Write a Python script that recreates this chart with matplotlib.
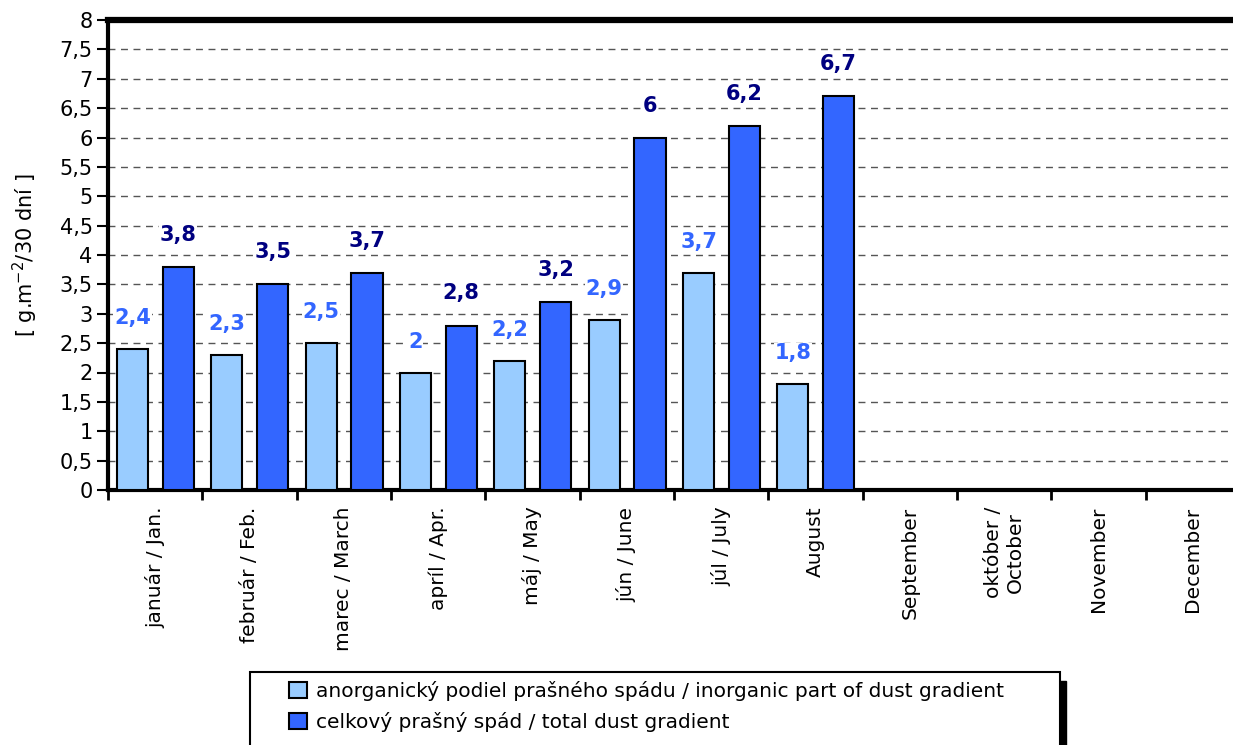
import numpy as np
import matplotlib.pyplot as plt
from matplotlib.patches import Rectangle

plt.rcParams['font.family'] = ['DejaVu Sans']

# data
months = ['január / Jan.', 'február / Feb.', 'marec / March', 'apríl / Apr.',
          'máj / May', 'jún / June', 'júl / July', 'August', 'September',
          'október /\nOctober', 'November', 'December']
inorganic = [2.4, 2.3, 2.5, 2.0, 2.2, 2.9, 3.7, 1.8]
total = [3.8, 3.5, 3.7, 2.8, 3.2, 6.0, 6.2, 6.7]
yticks = np.arange(0, 8.01, 0.5)

light = '#99CCFF'
dark = '#3366FF'

fig = plt.figure(figsize=(12.33, 7.45), dpi=100)
ax = fig.add_axes([108 / 1233, 1 - 490 / 745, 1132 / 1233, 470 / 745])

n = len(months)
x = np.arange(len(inorganic)) + 0.5
w = 0.33
b1 = ax.bar(x - 0.24, inorganic, w, color=light, edgecolor='black', linewidth=1.5, zorder=3,
            label='anorganický podiel prašného spádu / inorganic part of dust gradient')
b2 = ax.bar(x + 0.245, total, w, color=dark, edgecolor='black', linewidth=1.5, zorder=3,
            label='celkový prašný spád / total dust gradient')

def fmt(v):
    s = ('%g' % v).replace('.', ',')
    return s

for xi, v in zip(x - 0.24, inorganic):
    ax.annotate(fmt(v), (xi, v), xytext=(0, 31), textcoords='offset pixels',
                ha='center', va='center', fontsize=15, fontweight='bold', color=dark,
                bbox=dict(fc='white', ec='none', pad=0.5), zorder=4)
for xi, v in zip(x + 0.245, total):
    ax.annotate(fmt(v), (xi, v), xytext=(0, 32), textcoords='offset pixels',
                ha='center', va='center', fontsize=15, fontweight='bold', color='#000080',
                bbox=dict(fc='white', ec='none', pad=0.5), zorder=4)

ax.set_xlim(0, n)
ax.set_ylim(0, 8)
ax.set_yticks(yticks)
ax.set_yticklabels([fmt(t) for t in yticks], fontsize=15)
for t in yticks[1:-1]:
    ax.axhline(t, color='#555555', linestyle=(0, (5, 4)), linewidth=1, zorder=1)

ax.set_xticks(np.arange(0, n))
ax.set_xticklabels([])
ax.set_xticks(np.arange(n) + 0.5, minor=True)
ax.set_xticklabels(months, minor=True, rotation=90, fontsize=14.5, va='top', ha='center',
                   multialignment='center')
ax.tick_params(axis='x', which='minor', length=0, pad=12)
ax.tick_params(axis='x', which='major', length=7, width=2, direction='out')
ax.tick_params(axis='y', length=8, width=1.5, direction='out', pad=3)

for s in ['left', 'bottom']:
    ax.spines[s].set_linewidth(3)
ax.spines['top'].set_linewidth(4.5)
ax.spines['right'].set_linewidth(4)

ax.set_ylabel('[ g.m$^{-2}$/30 dní ]', fontsize=15, labelpad=14)

# legend box drawn by hand: it runs off the bottom of the figure
fig.patches.append(Rectangle((1060 / 1233, 0), 6 / 1233, 64 / 745, transform=fig.transFigure,
                             color='black', zorder=0))
fig.patches.append(Rectangle((250 / 1233, -10 / 745), 810 / 1233, 83 / 745,
                             transform=fig.transFigure, fc='white', ec='black', lw=1.5,
                             zorder=1))
leg = fig.legend(handles=[b1, b2], loc='upper left', bbox_to_anchor=(289 / 1233, 1 - 681 / 745),
                 fontsize=14.5, frameon=False,
                 handlelength=0.9, handleheight=0.9, handletextpad=0.45, borderpad=0,
                 labelspacing=0.55, borderaxespad=0)
leg.set_zorder(2)

fig.savefig('out.png', dpi=100)
